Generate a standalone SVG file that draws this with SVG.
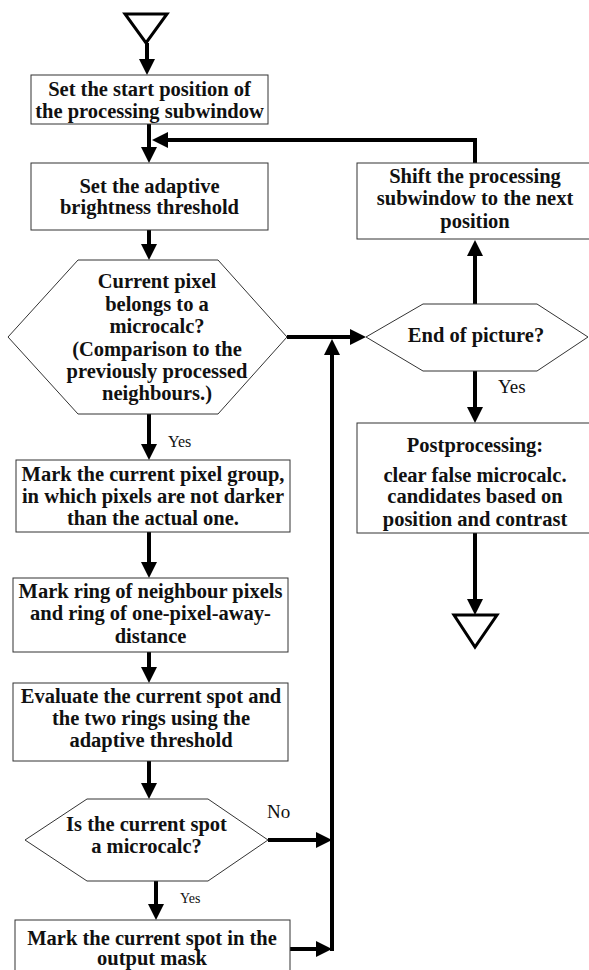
<svg xmlns="http://www.w3.org/2000/svg" width="589" height="970" viewBox="0 0 589 970">
<style>
.box{fill:#fff;stroke:#333;stroke-width:1}
.term{fill:#fff;stroke:#000;stroke-width:3}
.t{font-family:"Liberation Serif","Times New Roman",serif;font-weight:bold;font-size:20.5px;fill:#111;text-anchor:middle}
.lbl{font-family:"Liberation Serif","Times New Roman",serif;fill:#111}
.c{fill:none;stroke:#000;stroke-width:4}
</style>
<defs>
<marker id="ah" markerUnits="userSpaceOnUse" markerWidth="16" markerHeight="16" viewBox="0 0 16 16" refX="6" refY="8" orient="auto">
<path d="M0,0 L16,8 L0,16 z" fill="#000"/>
</marker>
</defs>
<rect width="589" height="970" fill="#fff"/>
<g id="connectors">
<path class="c" d="M147,43 V65" marker-end="url(#ah)"/>
<path class="c" d="M149,124 V153" marker-end="url(#ah)"/>
<path class="c" d="M475,163 V140 H162" marker-end="url(#ah)"/>
<path class="c" d="M149,230 V250" marker-end="url(#ah)"/>
<path class="c" d="M149,414 V450" marker-end="url(#ah)"/>
<path class="c" d="M287,337 H356" marker-end="url(#ah)"/>
<path class="c" d="M332,951 V349" marker-end="url(#ah)"/>
<path class="c" d="M149,532 V568" marker-end="url(#ah)"/>
<path class="c" d="M149,652 V673" marker-end="url(#ah)"/>
<path class="c" d="M149,761 V789" marker-end="url(#ah)"/>
<path class="c" d="M268,840 H322" marker-end="url(#ah)"/>
<path class="c" d="M156,881 V910" marker-end="url(#ah)"/>
<path class="c" d="M290,949 H322" marker-end="url(#ah)"/>
<path class="c" d="M475,304 V250" marker-end="url(#ah)"/>
<path class="c" d="M475,371 V413" marker-end="url(#ah)"/>
<path class="c" d="M475,533 V605" marker-end="url(#ah)"/>
<text class="lbl" x="168" y="447" font-size="16">Yes</text>
<text class="lbl" x="267" y="818" font-size="19">No</text>
<text class="lbl" x="180" y="903" font-size="14">Yes</text>
<text class="lbl" x="498" y="393" font-size="19">Yes</text>
</g>
<g id="start">
<polygon class="term" points="125,14 167,14 146,43"/>
</g>
<g id="set-start">
<rect class="box" x="31" y="75" width="237" height="49"/>
<text class="t" x="149.5" y="96">Set the start position of</text>
<text class="t" x="149.5" y="118">the processing subwindow</text>
</g>
<g id="set-threshold">
<rect class="box" x="31" y="163" width="237" height="67"/>
<text class="t" x="149.5" y="193">Set the adaptive</text>
<text class="t" x="149.5" y="214">brightness threshold</text>
</g>
<g id="pixel-decision">
<polygon class="box" points="8,337 78,260 218,260 287,337 218,414 78,414"/>
<text class="t" x="157" y="288">Current pixel</text>
<text class="t" x="157" y="311">belongs to a</text>
<text class="t" x="157" y="333">microcalc?</text>
<text class="t" x="157" y="356">(Comparison to the</text>
<text class="t" x="157" y="378">previously processed</text>
<text class="t" x="157" y="400">neighbours.)</text>
</g>
<g id="mark-group">
<rect class="box" x="16" y="460" width="274" height="72"/>
<text class="t" x="153" y="481">Mark the current pixel group,</text>
<text class="t" x="153" y="503">in which pixels are not darker</text>
<text class="t" x="153" y="525">than the actual one.</text>
</g>
<g id="mark-rings">
<rect class="box" x="13" y="578" width="275" height="74"/>
<text class="t" x="150.5" y="598">Mark ring of neighbour pixels</text>
<text class="t" x="150.5" y="620">and ring of one-pixel-away-</text>
<text class="t" x="150.5" y="643">distance</text>
</g>
<g id="evaluate">
<rect class="box" x="13" y="683" width="275" height="78"/>
<text class="t" x="151" y="703">Evaluate the current spot and</text>
<text class="t" x="151" y="725">the two rings using the</text>
<text class="t" x="151" y="747">adaptive threshold</text>
</g>
<g id="spot-decision">
<polygon class="box" points="25,840 87,799 208,799 268,840 208,881 87,881"/>
<text class="t" x="146.5" y="831">Is the current spot</text>
<text class="t" x="146.5" y="853">a microcalc?</text>
</g>
<g id="mark-spot">
<rect class="box" x="15" y="920" width="275" height="60"/>
<text class="t" x="152" y="945">Mark the current spot in the</text>
<text class="t" x="152" y="965">output mask</text>
</g>
<g id="shift">
<rect class="box" x="357" y="163" width="240" height="76"/>
<text class="t" x="475" y="183">Shift the processing</text>
<text class="t" x="475" y="205">subwindow to the next</text>
<text class="t" x="475" y="228">position</text>
</g>
<g id="end-decision">
<polygon class="box" points="366,337 423,304 537,304 588,337 537,371 423,371"/>
<text class="t" x="476" y="342">End of picture?</text>
</g>
<g id="postprocessing">
<rect class="box" x="357" y="423" width="240" height="110"/>
<text class="t" x="475" y="452">Postprocessing:</text>
<text class="t" x="475" y="482">clear false microcalc.</text>
<text class="t" x="475" y="503">candidates based on</text>
<text class="t" x="475" y="526">position and contrast</text>
</g>
<g id="end">
<polygon class="term" points="454,615 497,615 475,647"/>
</g>
</svg>
